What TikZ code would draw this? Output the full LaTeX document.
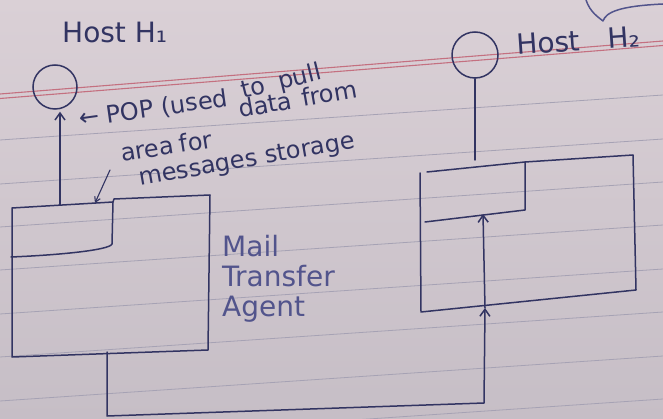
\documentclass[tikz,border=0pt]{standalone}
\usepackage{fontspec}
\setmainfont{DejaVu Sans}
\usetikzlibrary{arrows.meta,positioning}
\definecolor{ink}{RGB}{50,52,98}
\definecolor{inkLight}{RGB}{82,84,140}
\definecolor{paper}{RGB}{218,208,214}
\definecolor{paperDark}{RGB}{198,190,198}
\definecolor{ruling}{RGB}{166,162,180}
\definecolor{margin}{RGB}{196,112,128}

\begin{document}
\begin{tikzpicture}[x=1pt,y=-1pt,
  pen/.style={draw=ink,line width=1.5pt,line cap=round,line join=round},
  arr/.style={pen,-{Straight Barb[length=7pt,width=10pt]}},
  host/.style={circle,draw=ink,line width=1.5pt,minimum size=44pt,inner sep=0pt},
  label/.style={text=inkLight,font=\fontsize{28}{30}\selectfont,align=left,inner sep=0pt},
  note/.style={text=ink,font=\fontsize{24}{28}\selectfont,anchor=base west,inner sep=0pt}
]
\path[use as bounding box,top color=paper,bottom color=paperDark] (0,0) rectangle (663,419);
% notebook paper
\foreach \y in {140,184,227,270,314,357,401,444}
  \draw[ruling,line width=0.8pt] (0,\y) -- (663,\y-45);
\draw[margin,line width=1.1pt] (0,94) -- (663,41);
\draw[margin,line width=1.1pt] (0,98.5) -- (663,45.5);

% hosts
\node[host] (h1) at (55,87) {};
\node[host,minimum size=46pt] (h2) at (475,55) {};
\node[label,text=ink,anchor=base west] (h1lbl) at (62,43) {Host H₁};
\node[label,text=ink,anchor=base west,rotate=4] (h2lbl) at (517,55) {Host\hspace{28pt}H₂};

% mail transfer agent of H1
\draw[pen] (12,208) -- (113,202) -- (114,199) -- (210,195) -- (208,350) -- (12,357) -- cycle;
\draw[pen] (113,202) -- (112,244) .. controls (110,250) and (60,255) .. (11,257);
\node[label,anchor=north west] (mta) at (222,235) {Mail\\Transfer\\Agent};

% mail transfer agent of H2
\draw[pen] (427,172) -- (525,162) -- (633,155) -- (636,290) -- (421,312) -- (420,173);
\draw[pen] (525,162) -- (525,210) -- (425,222);

\coordinate (mtaTop) at (60,205);
\coordinate (mtaBot) at (107,352);
\coordinate (store1) at (95,203);
\coordinate (mta2Top) at (477,160);
\coordinate (mta2Bot) at (485,308);
\coordinate (store2) at (483,214);

\draw[arr,shorten >=2pt] (mtaTop) -- (mtaTop |- h1.south);
\draw[pen] (h2.south) -- (h2.south |- mta2Top);
\draw[arr] (mtaBot) -- ++(0,64) -- (484,403) -- (mta2Bot);
\draw[arr] (mta2Bot) -- (store2);

% notes
\node[note,rotate=8] (pop) at (80,127) {← POP (used};
\node[note,rotate=14] (pull) at (243,99) {to\hspace{14pt}pull};
\node[note,rotate=10] (data) at (240,118) {data\hspace{10pt}from};
\node[note,rotate=9] (area) at (122,162) {area\hspace{6pt}for};
\node[note,rotate=10] (msgs) at (140,186) {messages storage};
\coordinate (ptr) at (110,170);
\draw[arr,line width=1.1pt,-{Straight Barb[length=5pt,width=6pt]}] (ptr) -- (store1);

\draw[pen,draw=inkLight] (586,0) .. controls (590,12) and (598,17) .. (603,21)
  .. controls (606,12) and (620,6) .. (663,4);
\end{tikzpicture}
\end{document}
